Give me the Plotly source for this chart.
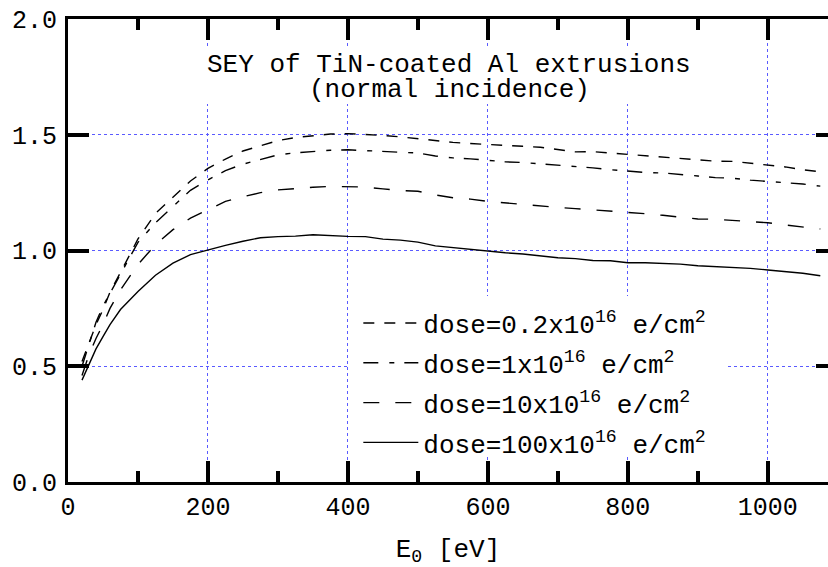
import plotly.graph_objects as go

energy = [20, 30, 40, 50, 60, 75, 100, 125, 150, 175, 200, 225, 250, 275, 300, 325, 350, 375,
          400, 425, 450, 475, 500, 525, 550, 575, 600, 625, 650, 675, 700, 725, 750, 775, 800,
          825, 850, 875, 900, 925, 950, 975, 1000, 1025, 1050, 1075]

sey_02 = [0.52, 0.60, 0.68, 0.745, 0.82, 0.905, 1.05, 1.16, 1.23, 1.30, 1.355, 1.395, 1.43, 1.453,
          1.475, 1.488, 1.496, 1.503, 1.505, 1.502, 1.497, 1.491, 1.483, 1.473, 1.467, 1.462, 1.457,
          1.453, 1.450, 1.446, 1.437, 1.426, 1.427, 1.421, 1.418, 1.412, 1.404, 1.398, 1.394, 1.386,
          1.385, 1.378, 1.370, 1.361, 1.349, 1.340]

sey_1 = [0.50, 0.59, 0.69, 0.76, 0.815, 0.90, 1.035, 1.12, 1.19, 1.26, 1.305, 1.345, 1.373, 1.393,
         1.413, 1.422, 1.429, 1.433, 1.435, 1.432, 1.427, 1.423, 1.421, 1.408, 1.400, 1.396, 1.389,
         1.383, 1.380, 1.375, 1.370, 1.365, 1.357, 1.349, 1.343, 1.337, 1.335, 1.330, 1.322, 1.315,
         1.312, 1.304, 1.299, 1.294, 1.287, 1.278]

sey_10 = [0.46, 0.55, 0.62, 0.68, 0.75, 0.83, 0.94, 1.025, 1.09, 1.14, 1.176, 1.212, 1.232, 1.250,
          1.262, 1.269, 1.273, 1.277, 1.275, 1.274, 1.266, 1.259, 1.256, 1.240, 1.228, 1.222, 1.212,
          1.205, 1.200, 1.194, 1.186, 1.181, 1.176, 1.168, 1.163, 1.159, 1.152, 1.144, 1.136, 1.135,
          1.129, 1.124, 1.120, 1.110, 1.100, 1.093]

sey_100 = [0.44, 0.51, 0.575, 0.628, 0.68, 0.745, 0.823, 0.893, 0.945, 0.982, 1.003, 1.022, 1.040,
           1.055, 1.060, 1.062, 1.068, 1.063, 1.061, 1.060, 1.049, 1.045, 1.036, 1.020, 1.012, 1.004,
           0.996, 0.990, 0.985, 0.976, 0.969, 0.965, 0.957, 0.956, 0.947, 0.947, 0.944, 0.941, 0.934,
           0.930, 0.928, 0.923, 0.916, 0.910, 0.902, 0.891]

series_labels = [
    "dose=0.2x10<sup>16</sup> e/cm<sup>2</sup>",
    "dose=1x10<sup>16</sup> e/cm<sup>2</sup>",
    "dose=10x10<sup>16</sup> e/cm<sup>2</sup>",
    "dose=100x10<sup>16</sup> e/cm<sup>2</sup>",
]
series_values = [sey_02, sey_1, sey_10, sey_100]
series_dash = ["11px,10px", "15px,11px,5px,10px", "16px,16px", "solid"]

title_lines = ["SEY of TiN-coated Al extrusions", "(normal incidence)"]
x_title = "E<sub>0</sub> [eV]"
x_ticks = [0, 200, 400, 600, 800, 1000]
x_minor_ticks = [100, 300, 500, 700, 900]
y_ticks = [0.0, 0.5, 1.0, 1.5, 2.0]

FONT = "Courier New, Liberation Mono, monospace"
GRID = "#5a5aff"
TICK = "rgb(0,0,0)"
X_RANGE = [0, 1086]
Y_RANGE = [0, 2]

fig = go.Figure()
for i, (lab, vals, dash) in enumerate(zip(series_labels, series_values, series_dash)):
    fig.add_trace(go.Scatter(x=energy, y=vals, mode="lines", name=lab, legendgroup=f"g{i}",
                             line=dict(color="black", width=1.4, dash=dash)))
# empty traces that activate the overlay axes (minor / right-hand ticks, dotted grid)
fig.add_trace(go.Scatter(x=[None], y=[None], xaxis="x2", yaxis="y2", showlegend=False,
                         hoverinfo="skip"))
fig.add_trace(go.Scatter(x=[None], y=[None], xaxis="x3", yaxis="y3", showlegend=False,
                         hoverinfo="skip"))

fig.update_layout(
    template="none",
    width=828, height=567,
    margin=dict(l=68, r=0, t=19, b=85, autoexpand=False),
    paper_bgcolor="white", plot_bgcolor="white",
    font=dict(family=FONT, size=25, color="black"),
    showlegend=True,
    legend=dict(x=0.382, y=0.394, xanchor="left", yanchor="top", tracegroupgap=3,
                bgcolor="rgba(0,0,0,0)", borderwidth=0, itemwidth=55,
                font=dict(family=FONT, size=26, color="black")),
    xaxis=dict(range=X_RANGE, tickvals=x_ticks, ticks="inside", ticklen=21, tickwidth=4,
               tickcolor=TICK, showline=True, linewidth=3, linecolor="black", mirror="allticks",
               showgrid=False, zeroline=False, automargin=False,
               title=dict(text=x_title, standoff=33, font=dict(family=FONT, size=26))),
    yaxis=dict(range=Y_RANGE, tickvals=y_ticks, tickformat=".1f", ticks="inside", ticklen=21,
               tickwidth=4, tickcolor=TICK, showline=True, linewidth=3, linecolor="black",
               mirror=False, showgrid=False, zeroline=False, ticklabelstandoff=3,
               automargin=False),
    xaxis2=dict(range=X_RANGE, overlaying="x", anchor="y", side="bottom", tickvals=x_minor_ticks,
                ticks="inside", ticklen=11, tickwidth=4, tickcolor=TICK, showline=False,
                mirror="allticks", showgrid=False, showticklabels=False, zeroline=False,
                automargin=False),
    yaxis2=dict(range=Y_RANGE, overlaying="y", anchor="x", side="right", tickvals=y_ticks,
                ticks="inside", ticklen=12, tickwidth=4, tickcolor=TICK, showline=False,
                showgrid=False, showticklabels=False, zeroline=False, automargin=False),
    xaxis3=dict(range=X_RANGE, overlaying="x", anchor="y", tickvals=x_ticks, ticks="",
                showline=False, showticklabels=False, showgrid=True, gridcolor=GRID,
                griddash="dot", gridwidth=1, zeroline=False, automargin=False),
    yaxis3=dict(range=Y_RANGE, overlaying="y", anchor="x", tickvals=y_ticks, ticks="",
                showline=False, showticklabels=False, showgrid=True, gridcolor=GRID,
                griddash="dot", gridwidth=1, zeroline=False, automargin=False),
)

fig.add_shape(type="rect", xref="x", yref="y", x0=188, x1=910, y0=1.633, y1=1.870,
              fillcolor="white", line=dict(width=0), layer="between")
fig.add_shape(type="rect", xref="x", yref="y", x0=401.5, x1=939, y0=0.112, y1=0.803,
              fillcolor="white", line=dict(width=0), layer="between")
fig.add_annotation(x=545, y=1.801, xref="x", yref="y", text=title_lines[0], showarrow=False,
                   font=dict(family=FONT, size=26), xanchor="center", yanchor="middle",
                   height=26, borderpad=0, valign="middle")
fig.add_annotation(x=545, y=1.694, xref="x", yref="y", text=title_lines[1], showarrow=False,
                   font=dict(family=FONT, size=26), xanchor="center", yanchor="middle",
                   height=26, borderpad=0, valign="middle")

fig.write_html("out.html", config={"displayModeBar": False},
               post_script="document.body.style.margin='0';document.body.style.overflow='hidden';")
